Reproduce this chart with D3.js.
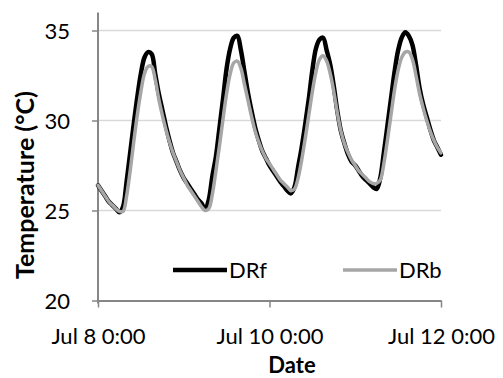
<!DOCTYPE html>
<html><head><meta charset="utf-8">
<script src="https://cdn.jsdelivr.net/npm/d3@7"></script>
<style>html,body{margin:0;padding:0;background:#fff;}svg{display:block;}</style>
</head><body>
<svg id="c" width="503" height="378"></svg>
<script>
// hourly readings from Jul 8 0:00 to Jul 12 0:00
const startTime = "2013-07-08T00:00:00";
const hours = d3.range(0, 97);
const drf = [26.4,26.1,25.8,25.5,25.3,25.1,24.9,25.2,26.6,28.2,29.8,31.3,32.6,33.5,33.8,33.7,32.6,31.5,30.6,29.7,28.9,28.2,27.7,27.2,26.8,
26.5,26.2,25.9,25.6,25.4,25.05,25.6,26.9,28.0,29.6,31.2,32.9,34.0,34.6,34.7,33.9,32.7,31.5,30.5,29.6,28.9,28.3,27.9,27.5,
27.2,26.9,26.6,26.35,26.1,25.95,26.3,27.4,28.5,29.8,31.2,32.8,34.0,34.5,34.6,33.9,33.1,31.9,30.5,29.4,28.7,28.1,27.7,27.5,
27.2,26.9,26.7,26.5,26.3,26.2,26.8,28.2,29.7,31.2,32.7,33.9,34.6,34.9,34.7,34.2,33.1,31.8,30.9,30.2,29.5,28.9,28.5,28.1];
const drb = [26.4,26.1,25.8,25.5,25.3,25.1,24.95,24.95,25.8,27.2,28.8,30.3,31.6,32.6,33.0,33.0,32.3,31.2,30.3,29.5,28.8,28.2,27.7,27.2,26.8,
26.4,26.1,25.8,25.5,25.2,25.0,25.1,25.9,27.2,28.6,30.1,31.5,32.6,33.2,33.3,32.9,32.0,31.1,30.2,29.4,28.8,28.3,27.9,27.6,
27.3,27.0,26.7,26.5,26.3,26.1,26.2,26.8,27.8,29.0,30.3,31.6,32.7,33.4,33.6,33.3,32.6,31.6,30.4,29.4,28.7,28.2,27.8,27.5,
27.2,27.0,26.8,26.6,26.5,26.5,26.7,27.6,28.9,30.3,31.7,32.8,33.5,33.8,33.8,33.4,32.5,31.5,30.7,30.0,29.4,28.9,28.5,28.2];
const seriesNames = ["DRf","DRb"];
const seriesColors = ["#000000","#a6a6a6"];
const yTicks = [20,25,30,35];
const xTickDates = ["2013-07-08T00:00:00","2013-07-10T00:00:00","2013-07-12T00:00:00"];
const xTickLabels = ["Jul 8 0:00","Jul 10 0:00","Jul 12 0:00"];
const yTitle = "Temperature (\u00B0C)";
const xTitle = "Date";

const svg = d3.select("#c");
const t0 = new Date(startTime);
const times = hours.map(h => new Date(t0.getTime() + h*3600000));
const x = d3.scaleTime().domain([new Date(xTickDates[0]), new Date(xTickDates[2])]).range([98, 441]);
const y = d3.scaleLinear().domain([20, 36]).range([300.5, 12.5]);
const axisCol = "#868686";
const font = "Lato, 'Open Sans', sans-serif";

// gridlines
svg.append("g").selectAll("line").data(yTicks.slice(1)).join("line")
  .attr("x1", 98).attr("x2", 441).attr("y1", d => y(d)).attr("y2", d => y(d))
  .attr("stroke", "#d9d9d9").attr("stroke-width", 1.5);

// y axis
const yAxis = svg.append("g").attr("transform", "translate(98,0)")
  .call(d3.axisLeft(y).tickValues(yTicks).tickSize(6).tickPadding(22).tickSizeOuter(0));
yAxis.select(".domain").remove();
yAxis.append("line").attr("x1",0).attr("x2",0).attr("y1",y(36)).attr("y2",y(20)+3).attr("stroke",axisCol).attr("stroke-width",2);
yAxis.selectAll(".tick line").attr("stroke", axisCol).attr("stroke-width", 1.5);
yAxis.selectAll(".tick text").attr("font-family", font).attr("font-size", 22).attr("fill", "#000").attr("dy","0.36em");

// x axis
const xAxis = svg.append("g").attr("transform", "translate(0,300.5)")
  .call(d3.axisBottom(x).tickValues(xTickDates.map(d => new Date(d)))
    .tickFormat((d,i) => xTickLabels[i]).tickSize(7).tickPadding(21).tickSizeOuter(0));
xAxis.select(".domain").attr("stroke", axisCol).attr("stroke-width", 2);
xAxis.selectAll(".tick line").attr("stroke", axisCol).attr("stroke-width", 1.5);
xAxis.selectAll(".tick text").attr("font-family", font).attr("font-size", 22).attr("fill", "#000");

// lines
const line = d3.line().x((d,i) => x(times[i])).y(d => y(d)).curve(d3.curveCatmullRom);
[drf, drb].forEach((s, k) => {
  svg.append("path").datum(s).attr("d", line).attr("fill", "none")
    .attr("stroke", seriesColors[k]).attr("stroke-width", k === 0 ? 4.5 : 3.5)
    .attr("stroke-linejoin", "round").attr("stroke-linecap", "round");
});

// legend
const legendX = [173, 343];
seriesNames.forEach((n, k) => {
  const g = svg.append("g");
  g.append("line").attr("x1", legendX[k]).attr("x2", legendX[k] + 54).attr("y1", 270).attr("y2", 270)
    .attr("stroke", seriesColors[k]).attr("stroke-width", k === 0 ? 4.5 : 3.5);
  g.append("text").attr("x", legendX[k] + 56).attr("y", 278).text(n)
    .attr("font-family", font).attr("font-size", 22).attr("fill", "#000");
});

// titles
svg.append("text").attr("transform", "translate(34,185) rotate(-90)").attr("text-anchor", "middle")
  .attr("font-family", font).attr("font-weight", "bold").attr("font-size", 25).text(yTitle);
svg.append("text").attr("x", 292).attr("y", 373).attr("text-anchor", "middle")
  .attr("font-family", font).attr("font-weight", "bold").attr("font-size", 22).text(xTitle);
</script>
</body></html>
